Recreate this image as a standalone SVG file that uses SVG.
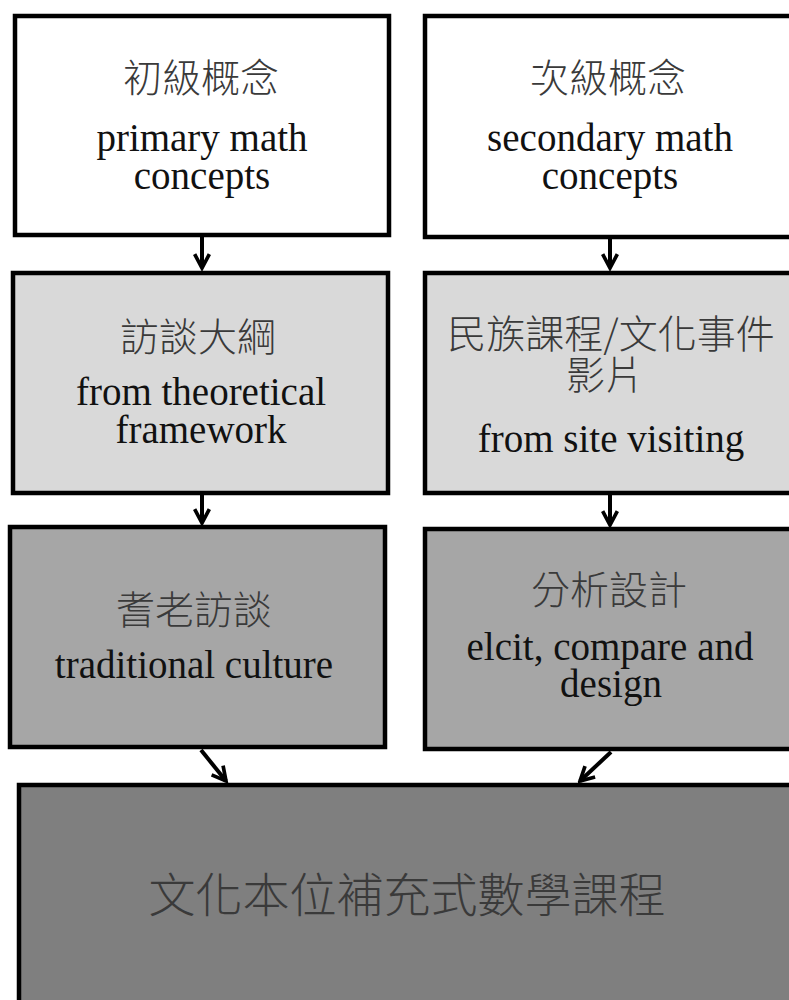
<svg xmlns="http://www.w3.org/2000/svg" width="789" height="1000" viewBox="0 0 789 1000">
  <style>
    .box { stroke: #000; stroke-width: 4.5; }
    .w { fill: #ffffff; }
    .l { fill: #d9d9d9; }
    .m { fill: #a6a6a6; }
    .d { fill: #7f7f7f; }
    .zh { font-family: "Noto Sans CJK TC", "Noto Sans CJK SC", sans-serif; font-weight: 300; font-size: 39px; fill: #3a3a3a; text-anchor: middle; }
    .zh-big { font-size: 47px; }
    .en { font-family: "Liberation Serif", "Times New Roman", serif; font-size: 39px; fill: #111; text-anchor: middle; }
    .conn { stroke: #000; stroke-width: 4; fill: none; marker-end: url(#arr); }
  </style>
  <defs>
    <marker id="arr" viewBox="0 0 10 10" refX="8.5" refY="5" markerWidth="4.6" markerHeight="4.6" orient="auto" markerUnits="strokeWidth">
      <path d="M1,1 L8.5,5 L1,9" fill="none" stroke="#000" stroke-width="2"/>
    </marker>
  </defs>
  <rect width="789" height="1000" fill="#ffffff"/>

  <g id="connectors">
    <line class="conn" x1="202" y1="237" x2="202" y2="268"/>
    <line class="conn" x1="610" y1="239" x2="610" y2="268"/>
    <line class="conn" x1="202" y1="495" x2="202" y2="523"/>
    <line class="conn" x1="610" y1="495" x2="610" y2="525"/>
    <line class="conn" x1="201" y1="750" x2="226" y2="781"/>
    <line class="conn" x1="611" y1="752" x2="580" y2="781"/>
  </g>

  <g id="n1">
    <rect class="box w" x="15" y="16" width="374" height="219"/>
    <text class="zh" x="201" y="92">初級概念</text>
    <text class="en" x="202" y="151">primary math<tspan x="202" dy="38">concepts</tspan></text>
  </g>
  <g id="n2">
    <rect class="box w" x="425" y="16" width="380" height="221"/>
    <text class="zh" x="608" y="92">次級概念</text>
    <text class="en" x="610" y="151">secondary math<tspan x="610" dy="38">concepts</tspan></text>
  </g>
  <g id="n3">
    <rect class="box l" x="13" y="273" width="375" height="220"/>
    <text class="zh" x="198" y="351">訪談大綱</text>
    <text class="en" x="201" y="405">from theoretical<tspan x="201" dy="38">framework</tspan></text>
  </g>
  <g id="n4">
    <rect class="box l" x="425" y="273" width="380" height="220"/>
    <text class="zh" x="611" y="348">民族課程/文化事件<tspan x="605" dy="41">影片</tspan></text>
    <text class="en" x="611" y="452">from site visiting</text>
  </g>
  <g id="n5">
    <rect class="box m" x="10" y="527" width="375" height="220"/>
    <text class="zh" x="194" y="624">耆老訪談</text>
    <text class="en" x="194" y="678">traditional culture</text>
  </g>
  <g id="n6">
    <rect class="box m" x="425" y="529" width="380" height="220"/>
    <text class="zh" x="609" y="604">分析設計</text>
    <text class="en" x="610" y="660">elcit, compare and<tspan x="611" dy="37">design</tspan></text>
  </g>
  <g id="n7">
    <rect class="box d" x="19" y="785" width="800" height="240"/>
    <text class="zh zh-big" x="407" y="912">文化本位補充式數學課程</text>
  </g>
</svg>
